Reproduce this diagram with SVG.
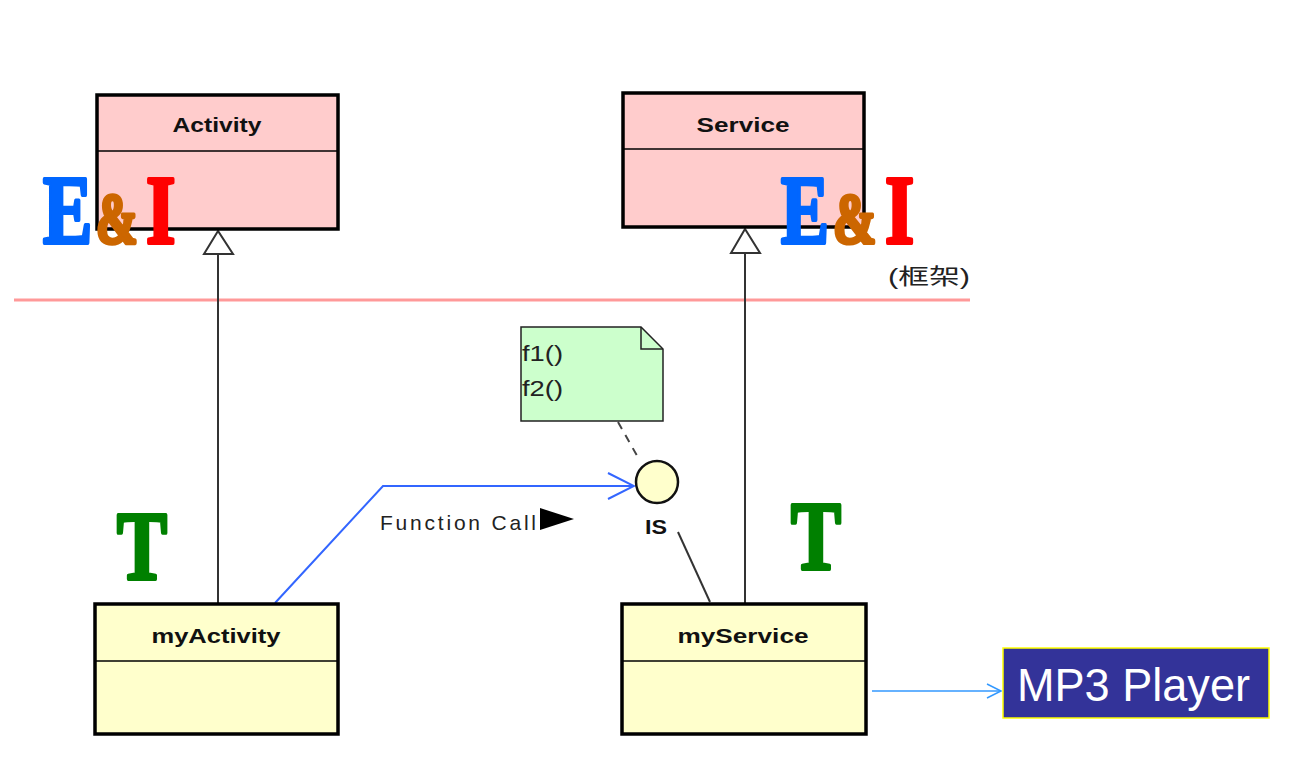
<svg xmlns="http://www.w3.org/2000/svg" width="1292" height="758" viewBox="0 0 1292 758">
<style>
.box{stroke:#000;stroke-width:3.5}
.div{stroke:#000;stroke-width:1.5}
.cls{font-family:"Liberation Sans",Arial,sans-serif;font-weight:bold;font-size:20px;fill:#111;text-anchor:middle}
.big{font-family:"Liberation Serif","Times New Roman",serif;font-weight:bold;stroke-width:3;stroke-linejoin:round}
.line{stroke:#333;stroke-width:2;fill:none}
.e{fill:#0066ff;stroke:#0066ff}
.amp{fill:#cc6600;stroke:#cc6600}
.i{fill:#ff0000;stroke:#ff0000}
.t{fill:#008000;stroke:#008000}
.note{font-family:"Liberation Sans",Arial,sans-serif;font-size:22px;fill:#222}
</style>
<defs>
<marker id="open" viewBox="0 0 30 30" refX="28" refY="15" markerWidth="30" markerHeight="30" markerUnits="userSpaceOnUse" orient="auto">
<path d="M2,2 L28,15 L2,28" fill="none" stroke="#3366ff" stroke-width="2"/>
</marker>
<marker id="open2" viewBox="0 0 20 20" refX="18" refY="10" markerWidth="20" markerHeight="20" markerUnits="userSpaceOnUse" orient="auto">
<path d="M4,3 L18,10 L4,17" fill="none" stroke="#3399ff" stroke-width="1.5"/>
</marker>
</defs>
<rect width="1292" height="758" fill="#fff"/>
<line x1="14" y1="300" x2="970" y2="300" stroke="#ff9999" stroke-width="3"/>
<g id="connectors">
<line class="line" x1="218" y1="254" x2="218" y2="603"/>
<polygon points="218,231 204,254 233,254" fill="#fff" stroke="#333" stroke-width="2"/>
<line class="line" x1="745" y1="253" x2="745" y2="603"/>
<polygon points="745,229 731,253 760,253" fill="#fff" stroke="#333" stroke-width="2"/>
<polyline points="275,603 383,486 634,486" fill="none" stroke="#3366ff" stroke-width="2" marker-end="url(#open)"/>
<line x1="618" y1="422" x2="640" y2="461" stroke="#444" stroke-width="2" stroke-dasharray="8,7"/>
<line x1="678" y1="532" x2="710" y2="602" stroke="#333" stroke-width="2"/>
<line x1="872" y1="691" x2="1001" y2="691" stroke="#3399ff" stroke-width="1.5" marker-end="url(#open2)"/>
<text x="380" y="530" font-family="Liberation Sans,Arial,sans-serif" font-size="21" fill="#222" textLength="156" lengthAdjust="spacing">Function Call</text>
<polygon points="540,508 574,519 540,530" fill="#000"/>
</g>
<g id="activity">
<rect class="box" x="97" y="95" width="241" height="134" fill="#ffcccc"/>
<line class="div" x1="97" y1="151" x2="338" y2="151"/>
<text class="cls" x="217" y="132" textLength="89" lengthAdjust="spacingAndGlyphs">Activity</text>
</g>
<g id="service">
<rect class="box" x="623" y="93" width="241" height="134" fill="#ffcccc"/>
<line class="div" x1="623" y1="149" x2="864" y2="149"/>
<text class="cls" x="743" y="132" textLength="93" lengthAdjust="spacingAndGlyphs">Service</text>
</g>
<g id="ei-left">
<text class="big e" font-size="74" transform="translate(43,243) scale(1,1.31)">E</text>
<text class="big amp" font-size="50" transform="translate(96,243) scale(1,1.42)">&amp;</text>
<text class="big i" font-size="76" transform="translate(146,243) scale(1,1.27)">I</text>
</g>
<g id="ei-right">
<text class="big e" font-size="72" transform="translate(781,243) scale(1,1.34)">E</text>
<text class="big amp" font-size="52" transform="translate(833,243) scale(1,1.37)">&amp;</text>
<text class="big i" font-size="75" transform="translate(885,243) scale(1,1.29)">I</text>
</g>
<g id="framework">
<text x="929" y="284" font-family="Liberation Sans,'Noto Sans CJK TC',sans-serif" font-size="22" fill="#222" text-anchor="middle" textLength="82" lengthAdjust="spacingAndGlyphs">(框架)</text>
</g>
<g id="note">
<path d="M521,327 L641,327 L663,349 L663,421 L521,421 Z" fill="#ccffcc" stroke="#222" stroke-width="1.5"/>
<path d="M641,327 L641,349 L663,349" fill="none" stroke="#222" stroke-width="1.5"/>
<text class="note" x="522" y="361" textLength="41" lengthAdjust="spacingAndGlyphs">f1()</text>
<text class="note" x="522" y="396" textLength="41" lengthAdjust="spacingAndGlyphs">f2()</text>
</g>
<g id="is">
<circle cx="657" cy="482" r="21" fill="#ffffcc" stroke="#111" stroke-width="2.5"/>
<text class="cls" x="656" y="534" font-size="19" textLength="22" lengthAdjust="spacingAndGlyphs">IS</text>
</g>
<g id="t-left">
<text class="big t" font-size="75" transform="translate(117,579) scale(1,1.29)">T</text>
</g>
<g id="t-right">
<text class="big t" font-size="75" transform="translate(791,569) scale(1,1.29)">T</text>
</g>
<g id="myactivity">
<rect class="box" x="95" y="604" width="243" height="130" fill="#ffffcc"/>
<line class="div" x1="95" y1="661" x2="338" y2="661"/>
<text class="cls" x="216" y="643" textLength="129" lengthAdjust="spacingAndGlyphs">myActivity</text>
</g>
<g id="myservice">
<rect class="box" x="622" y="604" width="244" height="130" fill="#ffffcc"/>
<line class="div" x1="622" y1="661" x2="866" y2="661"/>
<text class="cls" x="743" y="643" textLength="131" lengthAdjust="spacingAndGlyphs">myService</text>
</g>
<g id="mp3">
<rect x="1003" y="648" width="266" height="70" fill="#333399" stroke="#ffff00" stroke-width="1.5"/>
<text x="1017" y="701" font-family="Liberation Sans,Arial,sans-serif" font-size="46" fill="#fff" textLength="233" lengthAdjust="spacingAndGlyphs">MP3 Player</text>
</g>
</svg>
